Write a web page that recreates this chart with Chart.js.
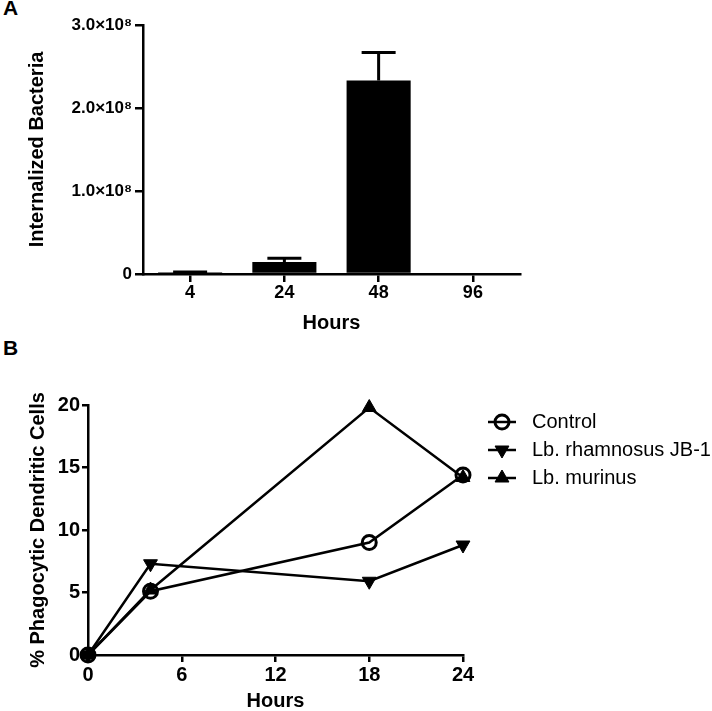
<!DOCTYPE html>
<html>
<head>
<meta charset="utf-8">
<script src="https://cdn.jsdelivr.net/npm/chart.js@4"></script>
<style>
    html, body { margin: 0; padding: 0; background: #fff; }
    body { width: 712px; height: 711px; position: relative; overflow: hidden; font-family: "Liberation Sans", Arial, sans-serif; }
    .panel-label { position: absolute; left: 3px; font-size: 21px; font-weight: bold; line-height: 1; }
    #chartA { position: absolute; left: 0; top: 0; }
    #chartB { position: absolute; left: 0; top: 340px; }
</style>
</head>
<body>
<div class="panel-label" style="top:-3px">A</div>
<div class="panel-label" style="top:337px">B</div>
<canvas id="chartA" width="712" height="340"></canvas>
<canvas id="chartB" width="712" height="371"></canvas>
<script>
// panel A
const hoursA = ['4', '24', '48', '96'];
const bacteriaMean = [2e6, 1.45e7, 2.33e8, 0];
const bacteriaErr = [5e5, 4.5e6, 3.4e7, 0];
const yTicksA = [0, 1e8, 2e8, 3e8];

// panel B
const hoursB = [0, 4, 18, 24];
const controlVals = [0, 5.1, 9.0, 14.4];
const rhamnosusVals = [0, 7.3, 5.9, 8.8];
const murinusVals = [0, 5.2, 19.8, 14.2];
const seriesNames = ['Control', 'Lb. rhamnosus JB-1', 'Lb. murinus'];
const xTicksB = [0, 6, 12, 18, 24];
const yTicksB = [0, 5, 10, 15, 20];

Chart.defaults.font.family = "'Liberation Sans', Arial, sans-serif";
Chart.defaults.color = '#000';

let errorBars = {
    id: 'errorBars',
    afterDatasetsDraw(chart) {
        let ctx = chart.ctx;
        let y = chart.scales.y;
        let meta = chart.getDatasetMeta(0);
        ctx.save();
        ctx.strokeStyle = '#000';
        ctx.lineWidth = 3;
        meta.data.forEach((bar, i) => {
            let err = bacteriaErr[i];
            if (!err) return;
            let yTop = y.getPixelForValue(bacteriaMean[i] + err);
            ctx.beginPath();
            ctx.moveTo(bar.x, bar.y);
            ctx.lineTo(bar.x, yTop);
            ctx.moveTo(bar.x - 17, yTop);
            ctx.lineTo(bar.x + 17, yTop);
            ctx.stroke();
        });
        ctx.restore();
    }
};

let legendB = {
    id: 'legendB',
    afterDraw(chart) {
        let ctx = chart.ctx;
        let area = chart.chartArea;
        chart.data.datasets.forEach((ds, i) => {
            let y = area.top + 17 + i * 28;
            let x0 = area.right + 25;
            ctx.save();
            ctx.strokeStyle = ds.borderColor;
            ctx.lineWidth = ds.borderWidth;
            ctx.beginPath();
            ctx.moveTo(x0, y);
            ctx.lineTo(x0 + 28, y);
            ctx.stroke();
            ctx.fillStyle = ds.pointBackgroundColor;
            ctx.lineWidth = ds.pointBorderWidth;
            Chart.helpers.drawPoint(ctx, {
                pointStyle: ds.pointStyle,
                rotation: ds.pointRotation || 0,
                radius: ds.pointRadius,
                borderWidth: ds.pointBorderWidth
            }, x0 + 14, y);
            ctx.fillStyle = '#000';
            ctx.font = "20px 'Liberation Sans', Arial, sans-serif";
            ctx.textBaseline = 'middle';
            ctx.fillText(ds.label, x0 + 44, y);
            ctx.restore();
        });
    }
};

new Chart(document.getElementById('chartA'), {
    type: 'bar',
    data: {
        labels: hoursA,
        datasets: [{
            data: bacteriaMean,
            backgroundColor: '#000',
            borderWidth: 0,
            barPercentage: 0.68,
            categoryPercentage: 1
        }]
    },
    options: {
        responsive: false,
        animation: false,
        layout: { padding: { top: 25, right: 192, left: 0, bottom: 0 } },
        plugins: { legend: { display: false }, tooltip: { enabled: false } },
        scales: {
            x: {
                grid: { offset: false, drawOnChartArea: false, tickLength: 8, color: '#000', lineWidth: 2.5 },
                border: { color: '#000', width: 2.5 },
                ticks: { font: { size: 18, weight: 'bold' }, padding: 0 },
                title: { display: true, text: 'Hours', font: { size: 20, weight: 'bold' }, padding: { top: 0, bottom: 5 } },
                afterFit: s => { s.height = 66; }
            },
            y: {
                min: 0,
                max: 3e8,
                afterBuildTicks: s => { s.ticks = yTicksA.map(v => ({ value: v })); },
                grid: { drawOnChartArea: false, tickLength: 8, color: '#000', lineWidth: 2.5 },
                border: { color: '#000', width: 2.5 },
                ticks: {
                    font: { size: 17, weight: 'bold' },
                    padding: 3,
                    callback: v => v === 0 ? '0' : (v / 1e8).toFixed(1) + '×10⁸'
                },
                title: { display: true, text: 'Internalized Bacteria', font: { size: 20, weight: 'bold' }, padding: { top: 25, bottom: 0 } },
                afterFit: s => { s.width = 143; }
            }
        }
    },
    plugins: [errorBars]
});

let toPoints = vals => hoursB.map((h, i) => ({ x: h, y: vals[i] }));

new Chart(document.getElementById('chartB'), {
    type: 'line',
    data: {
        datasets: [
            {
                label: seriesNames[0],
                data: toPoints(controlVals),
                borderColor: '#000',
                borderWidth: 2.5,
                pointStyle: 'circle',
                pointRadius: 7,
                pointBorderWidth: 3,
                pointBorderColor: '#000',
                pointBackgroundColor: 'rgba(0,0,0,0)',
                clip: false
            },
            {
                label: seriesNames[1],
                data: toPoints(rhamnosusVals),
                borderColor: '#000',
                borderWidth: 2.5,
                pointStyle: 'triangle',
                pointRotation: 180,
                pointRadius: 8,
                pointBorderWidth: 1,
                pointBorderColor: '#000',
                pointBackgroundColor: '#000',
                clip: false
            },
            {
                label: seriesNames[2],
                data: toPoints(murinusVals),
                borderColor: '#000',
                borderWidth: 2.5,
                pointStyle: 'triangle',
                pointRadius: 8,
                pointBorderWidth: 1,
                pointBorderColor: '#000',
                pointBackgroundColor: '#000',
                clip: false
            }
        ]
    },
    options: {
        responsive: false,
        animation: false,
        layout: { padding: { top: 65, right: 249, left: 0, bottom: 0 } },
        plugins: { legend: { display: false }, tooltip: { enabled: false } },
        scales: {
            x: {
                type: 'linear',
                min: 0,
                max: 24,
                afterBuildTicks: s => { s.ticks = xTicksB.map(v => ({ value: v })); },
                grid: { drawOnChartArea: false, tickLength: 7, color: '#000', lineWidth: 2.5 },
                border: { color: '#000', width: 2.5 },
                ticks: { font: { size: 20, weight: 'bold' }, padding: 1 },
                title: { display: true, text: 'Hours', font: { size: 20, weight: 'bold', lineHeight: 1 }, padding: { top: 0, bottom: 0 } },
                afterFit: s => { s.height = 56; }
            },
            y: {
                min: 0,
                max: 20,
                afterBuildTicks: s => { s.ticks = yTicksB.map(v => ({ value: v })); },
                grid: { drawOnChartArea: false, tickLength: 6, color: '#000', lineWidth: 2.5 },
                border: { color: '#000', width: 2.5 },
                ticks: { font: { size: 20, weight: 'bold' }, padding: 2 },
                title: { display: true, text: '% Phagocytic Dendritic Cells', font: { size: 20, weight: 'bold' }, padding: { top: 26, bottom: 0 } },
                afterFit: s => { s.width = 88; }
            }
        }
    },
    plugins: [legendB]
});
</script>
</body>
</html>
